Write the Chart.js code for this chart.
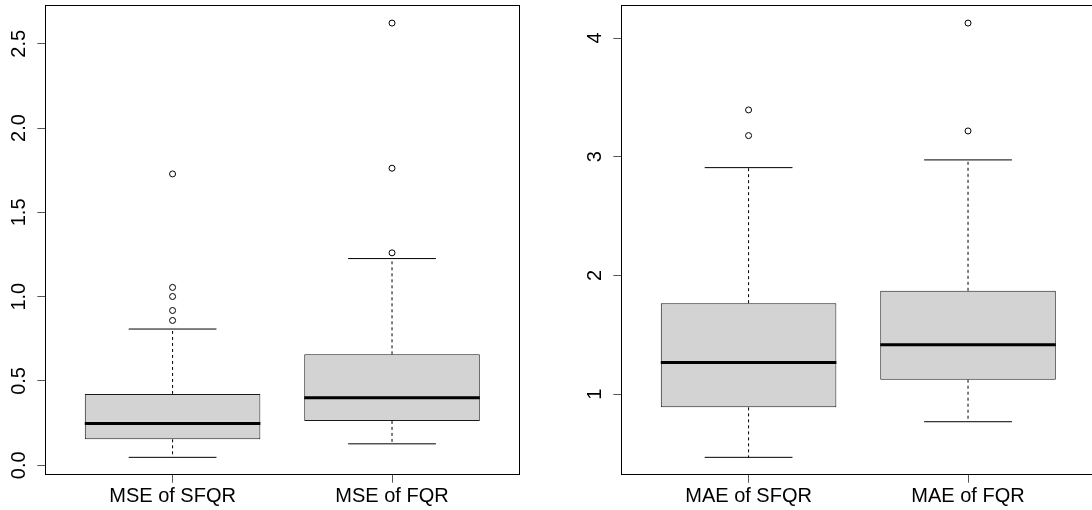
<!DOCTYPE html>
<html>
<head>
<meta charset="utf-8">
<script src="https://cdn.jsdelivr.net/npm/chart.js@4.4.0/dist/chart.umd.min.js"></script>
<style>
  html, body { margin: 0; padding: 0; background: #fff; overflow: hidden; }
  .panel { position: absolute; top: 0; height: 510px; }
  #left { left: 0; width: 546px; }
  #right { left: 546px; width: 560px; }
</style>
</head>
<body>
<div class="panel" id="left"><canvas id="mseChart"></canvas></div>
<div class="panel" id="right"><canvas id="maeChart"></canvas></div>
<script>
// left panel - MSE
const mseLabels = ['MSE of SFQR', 'MSE of FQR'];
const mseLower = [0.047, 0.127];
const mseQ1 = [0.154, 0.263];
const mseMedian = [0.247, 0.401];
const mseQ3 = [0.423, 0.658];
const mseUpper = [0.808, 1.226];
const mseOutliers = [[0.859, 0.918, 1.001, 1.055, 1.728], [1.26, 1.762, 2.623]];
const mseTicks = [0, 0.5, 1, 1.5, 2, 2.5];

// right panel - MAE
const maeLabels = ['MAE of SFQR', 'MAE of FQR'];
const maeLower = [0.467, 0.767];
const maeQ1 = [0.888, 1.121];
const maeMedian = [1.267, 1.415];
const maeQ3 = [1.766, 1.870];
const maeUpper = [2.908, 2.973];
const maeOutliers = [[3.178, 3.394], [3.217, 4.126]];
const maeTicks = [1, 2, 3, 4];

const FONT = { family: '"Liberation Sans", Arial, sans-serif', size: 20 };
const BOX_HALF = 0.4;
const CAP_HALF = 0.2;

// frame around the plot area, like R's box()
const framePlugin = {
  id: 'frame',
  afterDatasetsDraw(chart) {
    const a = chart.chartArea;
    const c = chart.ctx;
    c.save();
    c.strokeStyle = '#000';
    c.lineWidth = 1;
    const l = Math.floor(a.left) + 0.5, t = Math.floor(a.top) + 0.5;
    const r = Math.floor(a.right) + 0.5, b = Math.floor(a.bottom) + 0.5;
    c.strokeRect(l, t, r - l, b - t);
    c.restore();
  }
};

function segs(list) {
  const pts = [];
  list.forEach(s => {
    pts.push({ x: s[0], y: s[1] }, { x: s[2], y: s[3] }, { x: s[2], y: null });
  });
  return pts;
}

function boxplot(id, labels, lower, q1, median, q3, upper, outliers, yTicks, fmt, axisW, padRight, labelPad) {
  const allVals = lower.concat(upper, ...outliers);
  const lo = Math.min(...allVals), hi = Math.max(...allVals);
  const ext = (hi - lo) * 0.04;
  const xExt = (labels.length) * 0.04;

  const boxes = labels.map((l, i) => ({ x: i + 1, y: [q1[i], q3[i]] }));
  const medians = segs(labels.map((l, i) => [i + 1 - BOX_HALF, median[i], i + 1 + BOX_HALF, median[i]]));
  const whiskers = segs(labels.flatMap((l, i) => [
    [i + 1, q3[i], i + 1, upper[i]],
    [i + 1, q1[i], i + 1, lower[i]]
  ]));
  const caps = segs(labels.flatMap((l, i) => [
    [i + 1 - CAP_HALF, upper[i], i + 1 + CAP_HALF, upper[i]],
    [i + 1 - CAP_HALF, lower[i], i + 1 + CAP_HALF, lower[i]]
  ]));
  const outPts = outliers.flatMap((arr, i) => arr.map(v => ({ x: i + 1, y: v })));

  return new Chart(document.getElementById(id), {
    type: 'bar',
    data: {
      datasets: [
        {
          type: 'bar',
          data: boxes,
          backgroundColor: '#d3d3d3',
          borderColor: '#1a1a1a',
          borderWidth: 1,
          borderSkipped: false,
          barPercentage: 0.8,
          categoryPercentage: 1,
          grouped: false,
          order: 5
        },
        {
          type: 'line',
          data: whiskers,
          borderColor: '#000',
          borderWidth: 1,
          borderDash: [3, 3],
          pointRadius: 0,
          order: 4
        },
        {
          type: 'line',
          data: caps,
          borderColor: '#000',
          borderWidth: 1,
          pointRadius: 0,
          order: 3
        },
        {
          type: 'line',
          data: medians,
          borderColor: '#000',
          borderWidth: 3,
          pointRadius: 0,
          order: 1
        },
        {
          type: 'scatter',
          data: outPts,
          showLine: false,
          pointStyle: 'circle',
          pointRadius: 3,
          pointBackgroundColor: 'rgba(0,0,0,0)',
          pointBorderColor: '#000',
          pointBorderWidth: 1,
          order: 2
        }
      ]
    },
    options: {
      responsive: true,
      maintainAspectRatio: false,
      animation: false,
      layout: { padding: { top: 5.7, right: padRight, left: 0, bottom: 0 } },
      plugins: { legend: { display: false }, tooltip: { enabled: false } },
      scales: {
        x: {
          type: 'linear',
          offset: false,
          min: 0.5 - xExt,
          max: labels.length + 0.5 + xExt,
          grid: { display: true, drawOnChartArea: false, drawTicks: true, tickLength: 8, color: '#555', offset: false },
          border: { display: false },
          ticks: {
            font: FONT,
            color: '#000',
            padding: 2,
            maxRotation: 0,
            callback: (v) => labels[Math.round(v) - 1]
          },
          afterBuildTicks: (s) => { s.ticks = labels.map((l, i) => ({ value: i + 1 })); },
          afterFit: (s) => { s.height = 35.3; s.paddingLeft = 0; s.paddingRight = 0; }
        },
        y: {
          type: 'linear',
          min: lo - ext,
          max: hi + ext,
          grid: { display: true, drawOnChartArea: false, drawTicks: true, tickLength: 8, color: '#555' },
          border: { display: false },
          ticks: {
            font: FONT,
            color: '#000',
            padding: labelPad,
            minRotation: 90,
            maxRotation: 90,
            crossAlign: 'center',
            callback: fmt
          },
          afterBuildTicks: (s) => { s.ticks = yTicks.map(v => ({ value: v })); },
          afterFit: (s) => { s.width = axisW; s.paddingTop = 0; s.paddingBottom = 0; }
        }
      }
    },
    plugins: [framePlugin]
  });
}

boxplot('mseChart', mseLabels, mseLower, mseQ1, mseMedian, mseQ3, mseUpper, mseOutliers,
  mseTicks, (v) => Number(v).toFixed(1), 45.3, 26.7, 4);
boxplot('maeChart', maeLabels, maeLower, maeQ1, maeMedian, maeQ3, maeUpper, maeOutliers,
  maeTicks, (v) => String(v), 75.3, 10.7, 12);
</script>
</body>
</html>
